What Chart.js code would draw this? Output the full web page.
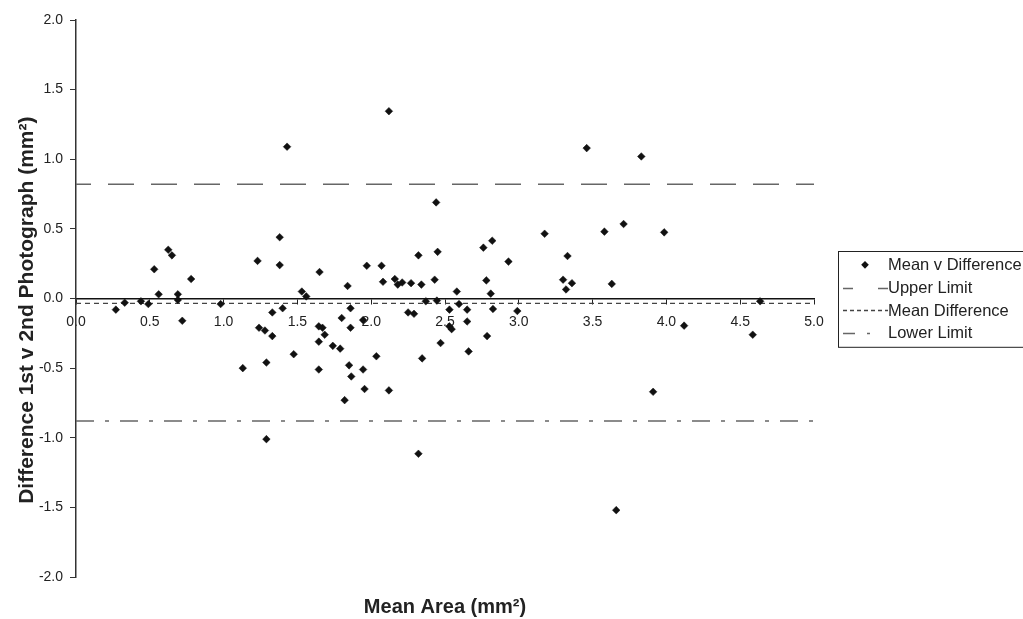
<!DOCTYPE html>
<html>
<head>
<meta charset="utf-8">
<script src="https://cdn.jsdelivr.net/npm/chart.js@4.4.1/dist/chart.umd.min.js"></script>
<style>
  html, body { margin: 0; padding: 0; background: #fff; }
  #wrap { width: 1023px; height: 619px; }
</style>
</head>
<body>
<div id="wrap"><canvas id="baChart" width="1023" height="619"></canvas></div>
<script>
// Bland-Altman data: mean area (x) and difference 1st v 2nd photograph (y)
const meanArea = [
    0.27, 0.33, 0.44, 0.49, 0.53, 0.56, 0.625, 0.65, 0.69, 0.69,
    0.72, 0.78, 0.98, 1.13, 1.23, 1.24, 1.28, 1.29, 1.29, 1.33,
    1.33, 1.38, 1.38, 1.40, 1.43, 1.475, 1.53, 1.56, 1.65, 1.645,
    1.67, 1.685, 1.645, 1.645, 1.74, 1.79, 1.80, 1.82, 1.84, 1.85,
    1.86, 1.86, 1.865, 1.945, 1.945, 1.955, 1.97, 2.035, 2.07, 2.08,
    2.12, 2.12, 2.16, 2.18, 2.21, 2.25, 2.27, 2.29, 2.32, 2.32,
    2.34, 2.345, 2.37, 2.43, 2.44, 2.445, 2.45, 2.47, 2.53, 2.53,
    2.545, 2.58, 2.595, 2.65, 2.65, 2.66, 2.76, 2.78, 2.785, 2.81,
    2.82, 2.825, 2.93, 2.99, 3.175, 3.30, 3.32, 3.33, 3.36, 3.46,
    3.58, 3.63, 3.66, 3.71, 3.83, 3.91, 3.985, 4.12, 4.585, 4.635
];
const difference = [
    -0.08, -0.03, -0.02, -0.04, 0.21, 0.03, 0.35, 0.31, 0.03, -0.01,
    -0.16, 0.14, -0.04, -0.50, 0.27, -0.21, -0.23, -0.46, -1.01, -0.10,
    -0.27, 0.44, 0.24, -0.07, 1.09, -0.40, 0.05, 0.015, 0.19, -0.20,
    -0.21, -0.26, -0.31, -0.51, -0.34, -0.36, -0.14, -0.73, 0.09, -0.48,
    -0.07, -0.21, -0.56, -0.155, -0.51, -0.65, 0.235, -0.415, 0.235, 0.12,
    1.345, -0.66, 0.14, 0.10, 0.115, -0.10, 0.11, -0.11, 0.31, -1.115,
    0.10, -0.43, -0.02, 0.135, 0.69, -0.015, 0.335, -0.32, -0.08, -0.20,
    -0.22, 0.05, -0.04, -0.08, -0.165, -0.38, 0.365, 0.13, -0.27, 0.035,
    0.415, -0.075, 0.265, -0.09, 0.465, 0.135, 0.065, 0.305, 0.11, 1.08,
    0.48, 0.105, -1.52, 0.535, 1.02, -0.67, 0.475, -0.195, -0.26, -0.02
];

// Agreement limits
const upperLimit = 0.82;
const meanDifference = -0.035;
const lowerLimit = -0.88;
const limitSpan = [0, 5];

// Tick values
const xTickValues = [0, 0.5, 1, 1.5, 2, 2.5, 3, 3.5, 4, 4.5, 5];
const yTickValues = [-2, -1.5, -1, -0.5, 0, 0.5, 1, 1.5, 2];

const fontFamily = '"Liberation Sans", Arial, sans-serif';

const points = meanArea.map((x, i) => ({ x: x, y: difference[i] }));
const hLine = v => limitSpan.map(x => ({ x: x, y: v }));

// Legend with a frame, drawn to the right of the plot
const boxLegend = {
    id: 'boxLegend',
    afterDraw(chart) {
        const ctx = chart.ctx;
        const area = chart.chartArea;
        const items = chart.data.datasets;
        const rowH = 22.7;
        const left = area.right + 24;
        const boxH = items.length * rowH + 5;
        const top = Math.round((area.top + area.bottom) / 2 - boxH / 2);
        const legendDash = [[], [10, 25], [4, 3], [12, 12, 3, 20]];

        ctx.save();
        ctx.strokeStyle = '#222';
        ctx.lineWidth = 1;
        ctx.strokeRect(left + 0.5, top + 0.5, 300, boxH);

        items.forEach((ds, i) => {
            const cy = top + 2.5 + rowH * (i + 0.5);
            if (i === 0) {
                ctx.fillStyle = ds.pointBackgroundColor;
                Chart.helpers.drawPoint(ctx, { pointStyle: 'rectRot', radius: 3.8, borderWidth: 0 }, left + 27, cy);
            } else {
                ctx.beginPath();
                ctx.setLineDash(legendDash[i]);
                ctx.strokeStyle = ds.borderColor;
                ctx.lineWidth = ds.borderWidth;
                ctx.moveTo(left + 5, Math.round(cy) + 0.5);
                ctx.lineTo(left + 50, Math.round(cy) + 0.5);
                ctx.stroke();
                ctx.setLineDash([]);
            }
            ctx.fillStyle = '#222';
            ctx.font = '16.5px ' + fontFamily;
            ctx.textBaseline = 'middle';
            ctx.textAlign = 'left';
            ctx.fillText(ds.label, left + 50, cy + 1);
        });
        ctx.restore();
    }
};

const ctx = document.getElementById('baChart').getContext('2d');
new Chart(ctx, {
    type: 'scatter',
    data: {
        datasets: [
            {
                label: 'Mean v Difference',
                data: points,
                pointStyle: 'rectRot',
                pointRadius: 3.8,
                pointBackgroundColor: '#111',
                pointBorderColor: '#111',
                pointBorderWidth: 0.5,
                order: 0
            },
            {
                label: 'Upper Limit',
                type: 'line',
                data: hLine(upperLimit),
                borderColor: '#666',
                borderWidth: 1.6,
                borderDash: [26, 17],
                borderDashOffset: 11,
                pointRadius: 0,
                order: 1
            },
            {
                label: 'Mean Difference',
                type: 'line',
                data: hLine(meanDifference),
                borderColor: '#444',
                borderWidth: 1.3,
                borderDash: [5, 4],
                pointRadius: 0,
                order: 2
            },
            {
                label: 'Lower Limit',
                type: 'line',
                data: hLine(lowerLimit),
                borderColor: '#666',
                borderWidth: 1.6,
                borderDash: [18, 11, 4, 11],
                pointRadius: 0,
                order: 3
            }
        ]
    },
    options: {
        responsive: false,
        animation: false,
        layout: { padding: { top: 20, right: 209, bottom: 0, left: 0 } },
        plugins: {
            legend: { display: false },
            tooltip: { enabled: false }
        },
        scales: {
            x: {
                type: 'linear',
                position: { y: 0 },
                min: 0,
                max: 5,
                afterBuildTicks: s => { s.ticks = xTickValues.map(v => ({ value: v })); },
                ticks: {
                    color: '#222',
                    font: { family: fontFamily, size: 14 },
                    padding: 10,
                    maxRotation: 0,
                    autoSkip: false,
                    callback: v => Number(v).toFixed(1)
                },
                grid: { drawOnChartArea: false, tickLength: 5, color: '#222', lineWidth: 1 },
                border: { color: '#111', width: 1.5 }
            },
            xTitle: {
                type: 'linear',
                axis: 'x',
                position: 'bottom',
                min: 0,
                max: 5,
                ticks: { display: false },
                grid: { display: false, drawTicks: false },
                border: { display: false },
                title: {
                    display: true,
                    text: 'Mean Area (mm²)',
                    color: '#222',
                    font: { family: fontFamily, size: 20, weight: 'bold' },
                    padding: { top: 18, bottom: 0 }
                }
            },
            y: {
                type: 'linear',
                position: 'left',
                min: -2,
                max: 2,
                afterBuildTicks: s => { s.ticks = yTickValues.map(v => ({ value: v })); },
                afterFit: s => { s.width = 76; },
                ticks: {
                    color: '#222',
                    font: { family: fontFamily, size: 14 },
                    padding: 7,
                    autoSkip: false,
                    callback: v => Number(v).toFixed(1)
                },
                grid: { drawOnChartArea: false, tickLength: 6, color: '#333', lineWidth: 1 },
                border: { color: '#333', width: 1.5 },
                title: {
                    display: true,
                    text: 'Difference 1st v 2nd Photograph (mm²)    ',
                    color: '#222',
                    font: { family: fontFamily, size: 21, weight: 'bold' },
                    padding: { top: 15, bottom: 0 }
                }
            }
        }
    },
    plugins: [boxLegend]
});
</script>
</body>
</html>
